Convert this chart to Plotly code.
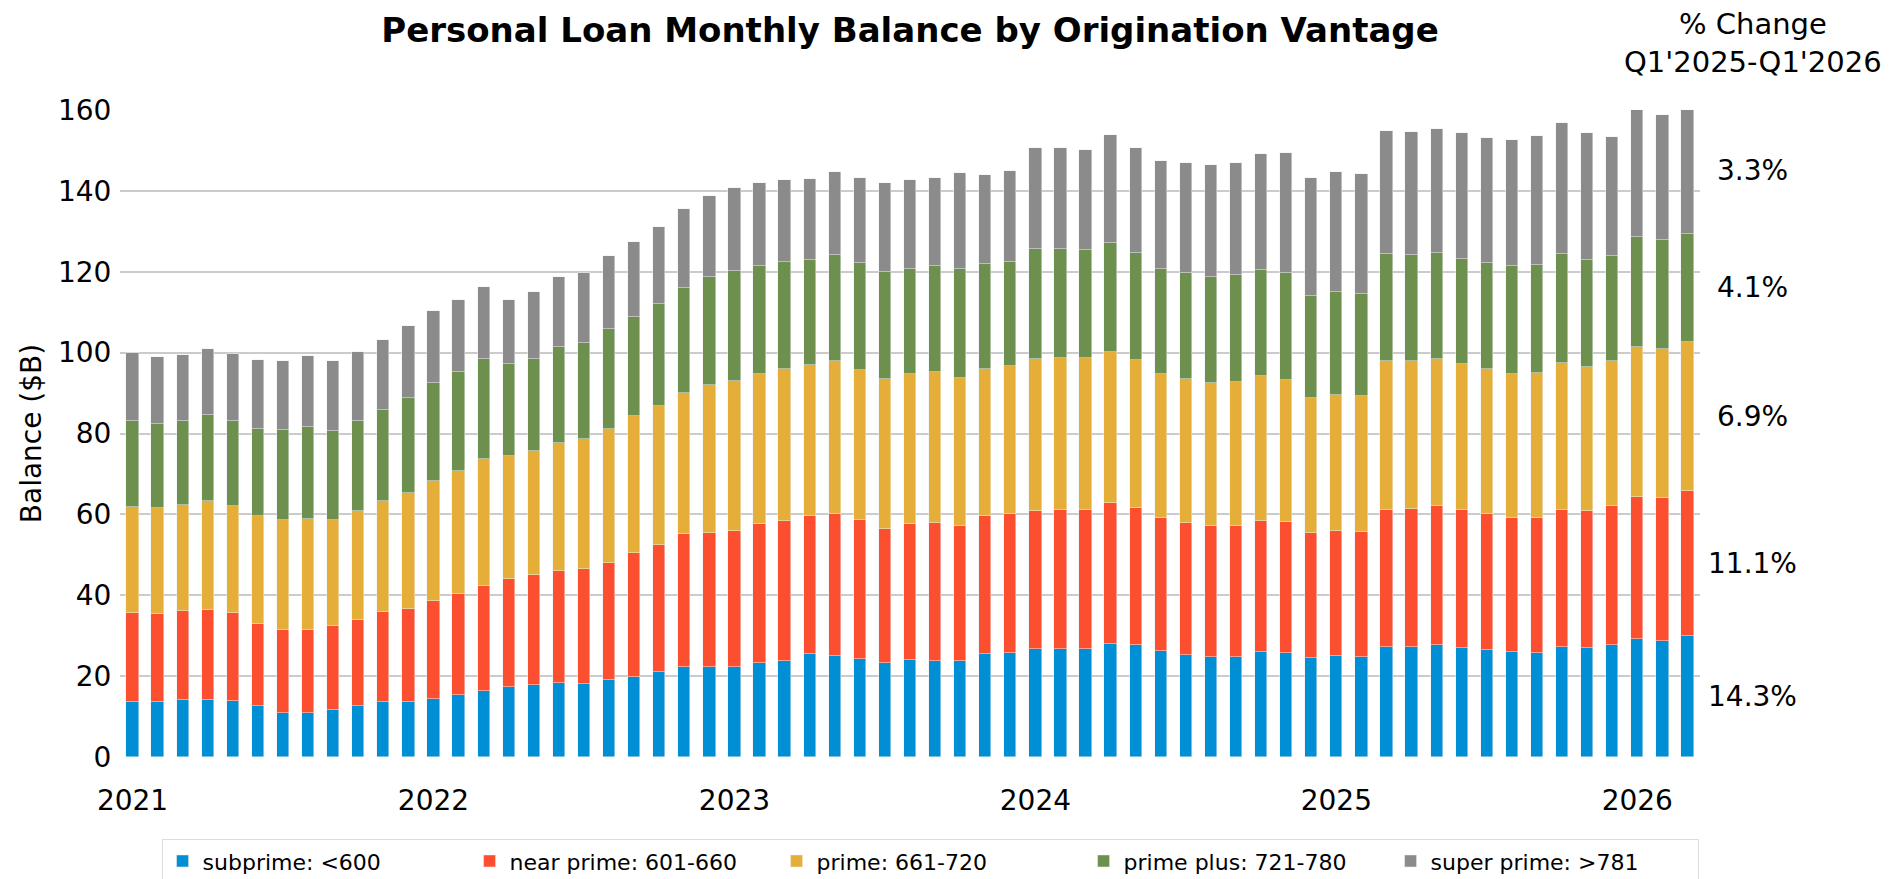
import plotly.graph_objects as go

# ---- data (balances in $B, monthly, Jan 2021 - Mar 2026) ----
years = [2021, 2022, 2023, 2024, 2025, 2026]
months = [f"{y}-{m:02d}" for y in years for m in range(1, 13)][:63]
year_ticks = [f"{y}-01" for y in years]
year_labels = [str(y) for y in years]

subprime = [13.7, 13.7, 14.1, 14.2, 13.8, 12.5, 11.0, 11.0, 11.6, 12.5, 13.7, 13.7,
            14.3, 15.3, 16.2, 17.4, 17.9, 18.2, 18.0, 19.0, 19.8, 21.0, 22.3, 22.2,
            22.2, 23.3, 23.8, 25.5, 25.0, 24.2, 23.2, 23.9, 23.8, 23.7, 25.5, 25.7,
            26.7, 26.6, 26.6, 27.9, 27.6, 26.2, 25.3, 24.8, 24.8, 25.9, 25.6, 24.5,
            25.0, 24.7, 27.3, 27.1, 27.7, 27.0, 26.4, 26.0, 25.8, 27.3, 27.0, 27.8,
            29.1, 28.7, 30.0]
near_prime = [21.8, 21.7, 22.0, 22.2, 21.7, 20.5, 20.4, 20.4, 20.7, 21.4, 22.1, 22.9,
              24.2, 25.1, 26.2, 26.7, 27.1, 27.8, 28.5, 29.0, 30.6, 31.5, 32.8, 33.3,
              33.6, 34.2, 34.6, 34.1, 35.1, 34.3, 33.3, 33.8, 34.0, 33.5, 34.0, 34.3,
              34.2, 34.5, 34.6, 34.8, 33.9, 32.9, 32.6, 32.4, 32.4, 32.5, 32.6, 30.9,
              30.9, 31.0, 33.8, 34.2, 34.4, 34.0, 33.7, 33.1, 33.2, 33.8, 33.8, 34.2,
              35.2, 35.4, 35.8]
prime = [26.4, 26.1, 26.1, 26.8, 26.5, 26.5, 27.1, 27.4, 26.2, 26.9, 27.4, 28.7,
         29.8, 30.3, 31.3, 30.4, 30.7, 31.7, 32.1, 33.1, 33.9, 34.2, 34.9, 36.5,
         37.2, 37.3, 37.6, 37.4, 37.9, 37.3, 37.0, 37.0, 37.3, 36.6, 36.5, 36.8,
         37.5, 37.5, 37.4, 37.4, 36.6, 35.7, 35.7, 35.3, 35.5, 35.8, 35.0, 33.3,
         33.5, 33.5, 36.9, 36.7, 36.3, 36.1, 35.8, 35.7, 36.0, 36.4, 35.6, 35.9,
         37.2, 36.9, 36.9]
prime_plus = [21.1, 20.9, 21.0, 21.3, 21.2, 21.7, 22.3, 22.9, 22.1, 22.3, 22.5, 23.6,
              24.1, 24.4, 24.7, 22.6, 22.8, 23.6, 23.8, 24.7, 24.6, 25.4, 26.0, 26.7,
              27.1, 26.6, 26.4, 25.9, 26.1, 26.3, 26.4, 26.1, 26.2, 26.9, 25.8, 25.7,
              27.3, 27.1, 26.8, 27.1, 26.5, 25.9, 26.1, 26.3, 26.4, 26.3, 26.4, 25.3,
              25.5, 25.3, 26.3, 26.1, 26.3, 26.0, 26.3, 26.5, 26.7, 27.0, 26.4, 25.9,
              27.2, 26.9, 26.6]
super_prime = [16.9, 16.6, 16.2, 16.4, 16.4, 16.9, 17.1, 17.4, 17.3, 17.1, 17.3, 17.6,
               17.8, 17.8, 17.8, 16.0, 16.6, 17.3, 17.4, 18.1, 18.4, 19.0, 19.4, 20.0,
               20.7, 20.6, 20.2, 20.1, 20.5, 21.2, 22.0, 22.0, 21.8, 23.7, 22.1, 22.3,
               25.0, 24.8, 24.7, 26.5, 26.0, 26.8, 27.1, 27.5, 27.7, 28.7, 29.8, 29.3,
               29.7, 29.7, 30.6, 30.4, 30.5, 31.1, 30.9, 31.4, 31.8, 32.2, 31.5, 29.6,
               31.7, 30.9, 31.5]

series_names = ["subprime: <600", "near prime: 601-660", "prime: 661-720",
                "prime plus: 721-780", "super prime: >781"]
series_values = [subprime, near_prime, prime, prime_plus, super_prime]
colors = ["#008fd5", "#fc4f30", "#e5ae38", "#6d904f", "#8b8b8b"]
pct_change = ["14.3%", "11.1%", "6.9%", "4.1%", "3.3%"]

FONT = "DejaVu Sans"

fig = go.Figure()
for name, vals, col in zip(series_names, series_values, colors):
    fig.add_trace(go.Bar(
        x=months, y=vals, name=name, width=0.49,
        marker=dict(color=col, line=dict(color="#f0f0f0", width=0.5)),
    ))

# % change labels at mid-height of each segment of the last bar
base = 0.0
for vals, label in zip(series_values, pct_change):
    mid = base + vals[-1] / 2.0
    base += vals[-1]
    fig.add_annotation(x=1.0335, xref="paper", y=mid, yref="y", text=label,
                       showarrow=False, xanchor="center", yanchor="middle",
                       font=dict(family=FONT, size=28, color="black"))

fig.add_annotation(x=1.0335, xref="paper", y=1.1322, yref="paper", text="% Change",
                   showarrow=False, xanchor="center", yanchor="middle",
                   font=dict(family=FONT, size=29, color="black"))
fig.add_annotation(x=1.0335, xref="paper", y=1.0745, yref="paper", text="Q1'2025-Q1'2026",
                   showarrow=False, xanchor="center", yanchor="middle",
                   font=dict(family=FONT, size=29, color="black"))

# the page places the figure 8px in from the top-left corner; margins compensate
fig.update_layout(
    width=1890, height=879, autosize=False,
    margin=dict(l=112, r=198, t=102, b=130, autoexpand=False),
    barmode="stack",
    plot_bgcolor="white", paper_bgcolor="white",
    font=dict(family=FONT, size=28, color="black"),
    title=dict(text="Personal Loan Monthly Balance by Origination Vantage",
               x=0.5, xref="paper", xanchor="center",
               y=1 - 22.5 / 879, yref="container", yanchor="middle",
               font=dict(family=FONT, size=34, color="black", weight="bold")),
    legend=dict(orientation="h", x=0.5127, xanchor="center", y=-0.127, yanchor="top",
                font=dict(family=FONT, size=22, color="black"),
                bordercolor="#dcdcdc", borderwidth=1, bgcolor="white",
                entrywidth=262, entrywidthmode="pixels", traceorder="normal"),
    bargap=0,
)
fig.update_xaxes(type="category", categoryorder="array", categoryarray=months,
                 tickmode="array", tickvals=year_ticks, ticktext=year_labels,
                 showgrid=False, showline=False, zeroline=False,
                 ticks="outside", ticklen=18, tickcolor="rgba(0,0,0,0)",
                 tickfont=dict(family=FONT, size=28, color="black"),
                 range=[-0.5, 62.5])
fig.update_yaxes(range=[0, 160], tickmode="array", tickvals=list(range(0, 161, 20)),
                 showgrid=True, gridcolor="#cbcbcb", gridwidth=2,
                 showline=False, zeroline=False,
                 ticks="outside", ticklen=2, tickcolor="rgba(0,0,0,0)",
                 tickfont=dict(family=FONT, size=28, color="black"),
                 title=dict(text="Balance ($B)", standoff=8,
                            font=dict(family=FONT, size=28, color="black")))

fig.write_html("out.html")
